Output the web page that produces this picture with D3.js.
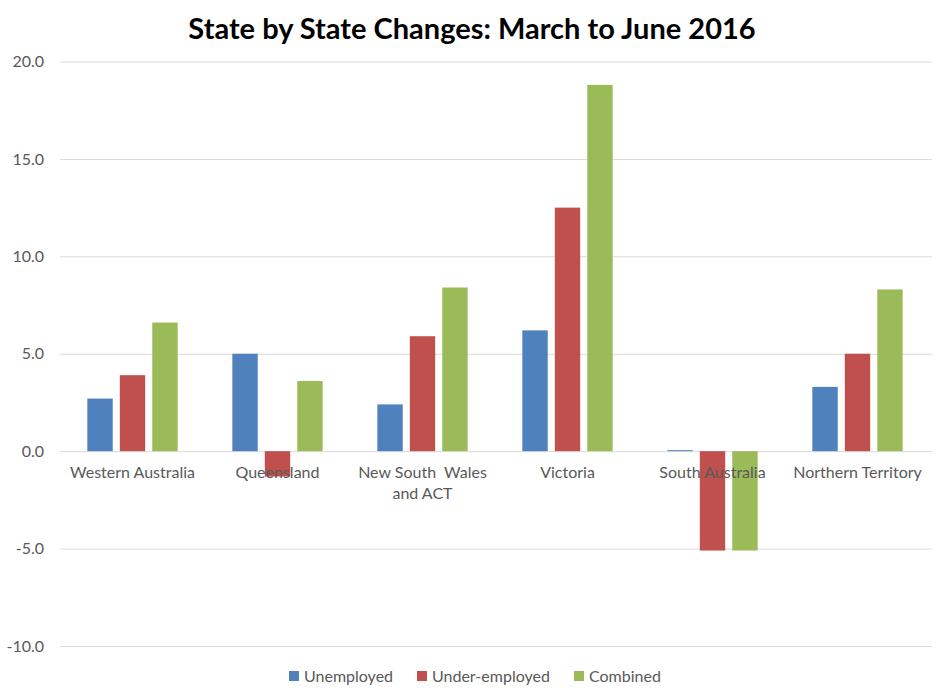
<!DOCTYPE html>
<html>
<head>
<meta charset="utf-8">
<script src="https://cdn.jsdelivr.net/npm/d3@7"></script>
<style>
  body { margin: 0; background: #fff; }
  text { font-family: Lato, "Open Sans", sans-serif; }
</style>
</head>
<body>
<script>
// data
var states = ["Western Australia", "Queensland", "New South Wales and ACT", "Victoria", "South Australia", "Northern Territory"];
var series = ["Unemployed", "Under-employed", "Combined"];
var unemployed = [2.7, 5.0, 2.4, 6.2, 0.05, 3.3];
var underEmployed = [3.9, -1.3, 5.9, 12.5, -5.1, 5.0];
var combined = [6.6, 3.6, 8.4, 18.8, -5.1, 8.3];
var yTicks = [-10, -5, 0, 5, 10, 15, 20];
var colours = ["#4f81bd", "#c0504d", "#9bbb59"];

var values = [unemployed, underEmployed, combined];
var data = states.map(function(s, i) {
  return { state: s, vals: series.map(function(k, j) { return { key: k, v: values[j][i] }; }) };
});

var W = 945, H = 696;
var svg = d3.select("body").append("svg").attr("width", W).attr("height", H);

var x0 = d3.scaleBand().domain(states).range([60, 930]).paddingInner(0.377).paddingOuter(0.1885);
var x1 = d3.scaleBand().domain(series).range([0, x0.bandwidth()]).paddingInner(0.218);
var y = d3.scaleLinear().domain([-10, 20]).range([646, 61.5]);
var colour = d3.scaleOrdinal().domain(series).range(colours);

// gridlines
svg.append("g").selectAll("line")
  .data(yTicks).enter().append("line")
  .attr("x1", 60).attr("x2", 932)
  .attr("y1", function(d) { return y(d) + 0.5; })
  .attr("y2", function(d) { return y(d) + 0.5; })
  .style("stroke", "#d9d9d9").style("stroke-width", 1);

// y axis labels (plain hyphen for negatives, like the original)
var fmt = d3.format(".1f");
var yAxis = d3.axisLeft(y).tickValues(yTicks)
  .tickFormat(function(d) { return fmt(d).replace("\u2212", "-"); })
  .tickSize(0).tickPadding(0);
var ya = svg.append("g").attr("transform", "translate(44,0)").call(yAxis);
ya.select(".domain").remove();
ya.selectAll("text").style("font-size", "16px").style("fill", "#595959")
  .style("font-family", "Lato, sans-serif");

// bars
var groups = svg.append("g").selectAll("g")
  .data(data).enter().append("g")
  .attr("transform", function(d) { return "translate(" + x0(d.state) + ",0)"; });

groups.selectAll("rect")
  .data(function(d) { return d.vals; })
  .enter().append("rect")
  .attr("x", function(d) { return x1(d.key); })
  .attr("width", x1.bandwidth())
  .attr("y", function(d) { return y(Math.max(0, d.v)); })
  .attr("height", function(d) { return Math.abs(y(d.v) - y(0)); })
  .attr("fill", function(d) { return colour(d.key); });

// category labels
var labelLines = {
  "New South Wales and ACT": ["New South  Wales", "and ACT"]
};
var cats = svg.append("g").selectAll("text")
  .data(states).enter().append("text")
  .attr("x", function(d) { return x0(d) + x0.bandwidth() / 2; })
  .attr("y", 478)
  .attr("text-anchor", "middle")
  .style("font-size", "16px").style("fill", "#595959")
  .style("white-space", "pre");
cats.each(function(d) {
  var lines = labelLines[d] || [d];
  var t = d3.select(this);
  lines.forEach(function(l, i) {
    t.append("tspan").attr("x", x0(d) + x0.bandwidth() / 2).attr("dy", i ? 21 : 0).text(l);
  });
});

// title
svg.append("text")
  .attr("x", 472).attr("y", 39)
  .attr("text-anchor", "middle")
  .style("font-size", "29px").style("font-weight", "bold").style("fill", "#000")
  .text("State by State Changes: March to June 2016");

// legend
var legendX = [289, 417, 574];
var leg = svg.append("g").selectAll("g")
  .data(series).enter().append("g")
  .attr("transform", function(d, i) { return "translate(" + legendX[i] + ",671)"; });
leg.append("rect").attr("width", 10).attr("height", 10)
  .attr("fill", function(d) { return colour(d); });
leg.append("text").attr("x", 15).attr("y", 10.5)
  .style("font-size", "16px").style("fill", "#595959")
  .text(function(d) { return d; });
</script>
</body>
</html>
